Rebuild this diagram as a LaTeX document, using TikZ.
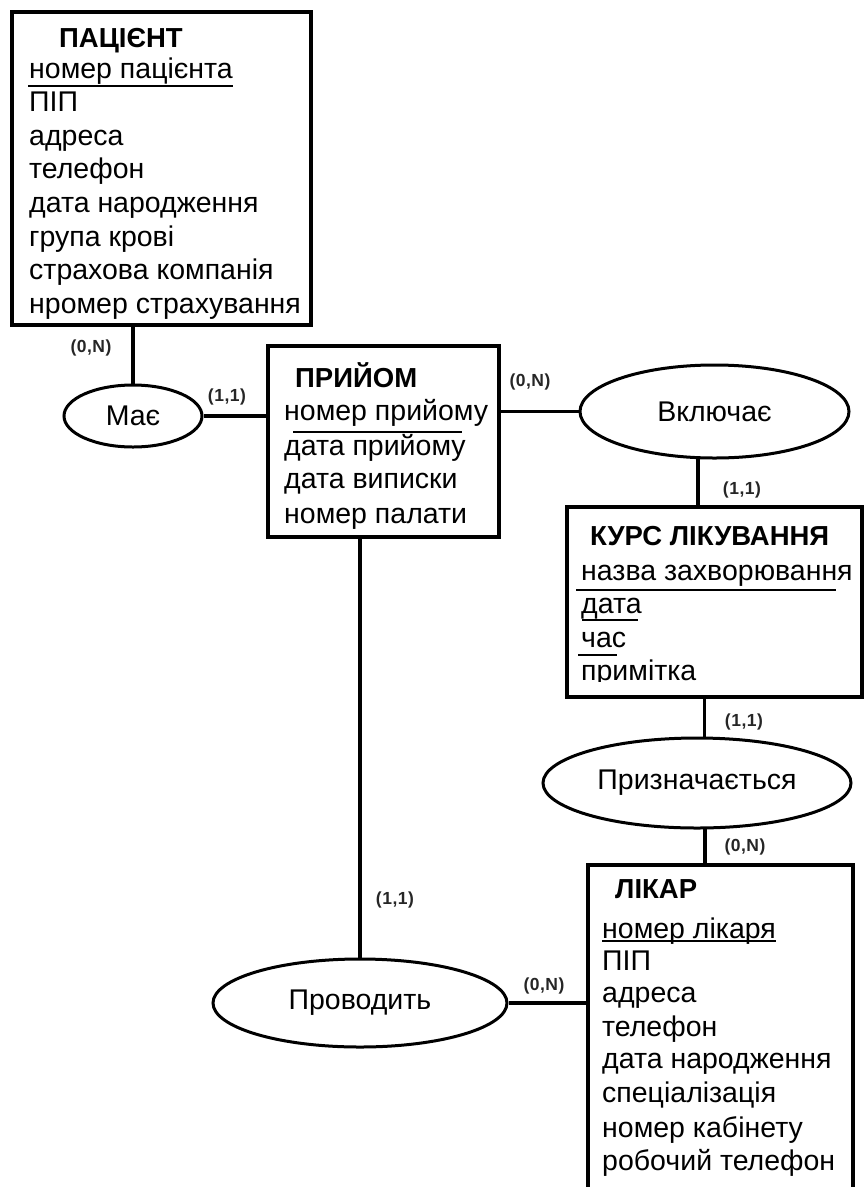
\documentclass[tikz,border=0pt]{standalone}
\usepackage{fontspec}
\setmainfont{Liberation Sans}
\usetikzlibrary{shapes.geometric,calc}
\begin{document}
\begin{tikzpicture}[x=1pt,y=-1pt,
  entity/.style={draw, rectangle, line width=4.5pt, inner sep=0pt},
  relation/.style={draw, ellipse, line width=3pt, inner sep=0pt,
    font=\fontsize{28.5}{28.5}\selectfont},
  attr/.style={anchor=base west, inner sep=0pt, font=\fontsize{28.5}{28.5}\selectfont},
  title/.style={anchor=base west, inner sep=0pt, font=\fontsize{27.5}{27.5}\selectfont\bfseries},
  card/.style={inner sep=0pt, text=black!85,
    font=\fontsize{17.5}{17.5}\selectfont\bfseries\addfontfeature{LetterSpace=3}},
  link/.style={line width=3.5pt},
  keyline/.style={line width=1.5pt}]
\useasboundingbox (0,0) rectangle (865,1187);

% entity boxes
\node[entity, minimum width=299, minimum height=313] (pac) at (161.5,168.5) {};
\node[entity, minimum width=231, minimum height=191] (prm) at (383.5,441.5) {};
\node[entity, minimum width=295, minimum height=190] (kurs) at (714.5,602) {};
\node[entity, minimum width=265, minimum height=335] (lik) at (720.5,1032.5) {};

% relationships
\node[relation, minimum width=138, minimum height=62] (mae) at (133,416) {Має};
\node[relation, minimum width=269, minimum height=93] (vk) at (714.5,411.5) {Включає};
\node[relation, minimum width=308, minimum height=90] (pz) at (697,783) {Призначається};
\node[relation, minimum width=294, minimum height=88] (prov) at (360,1003) {Проводить};

% ПАЦІЄНТ
\node[title] (pacT) at (59,47) {ПАЦІЄНТ};
\node[attr] (pa1) at (29,78) {номер пацієнта};
\node[attr] (pa2) at (29,111.6) {ПІП};
\node[attr] (pa3) at (29,145.2) {адреса};
\node[attr] (pa4) at (29,178.8) {телефон};
\node[attr] (pa5) at (29,212.4) {дата народження};
\node[attr] (pa6) at (29,246) {група крові};
\node[attr] (pa7) at (29,279.6) {страхова компанія};
\node[attr] (pa8) at (29,313.2) {нромер страхування};
\draw[keyline] (28,86) -- (233,86);

% ПРИЙОМ
\node[title] (prT) at (295,387) {ПРИЙОМ};
\node[attr] (pr1) at (284,420) {номер прийому};
\node[attr] (pr2) at (284,455) {дата прийому};
\node[attr] (pr3) at (284,488) {дата виписки};
\node[attr] (pr4) at (284,523) {номер палати};
\draw[keyline] (293,432) -- (462,432);

% КУРС ЛІКУВАННЯ
\node[title] (kuT) at (590,545) {КУРС ЛІКУВАННЯ};
\node[attr] (ku1) at (581,580) {назва захворювання};
\node[attr] (ku2) at (581,613) {дата};
\node[attr] (ku3) at (581,647) {час};
\begin{scope}
  \clip (569,650) rectangle (860,681);
  \node[attr] (ku4) at (581,680) {примітка};
\end{scope}
\draw[keyline] (576,590) -- (836,590);
\draw[keyline] (582,620) -- (638,620);
\draw[keyline] (578,655) -- (617,655);

% ЛІКАР
\node[title] (liT) at (615,898) {ЛІКАР};
\node[attr] (li1) at (602,938) {номер лікаря};
\node[attr] (li2) at (602,970) {ПІП};
\node[attr] (li3) at (602,1002) {адреса};
\node[attr] (li4) at (602,1036) {телефон};
\node[attr] (li5) at (602,1068) {дата народження};
\node[attr] (li6) at (602,1102) {спеціалізація};
\node[attr] (li7) at (602,1137) {номер кабінету};
\node[attr] (li8) at (602,1170) {робочий телефон};
\draw[keyline] ([yshift=-3pt]li1.base west) -- ([yshift=-3pt]li1.base east);

% connectors
\draw[link] (mae.north |- pac.south) -- (mae.north);
\draw[link] (mae.east) -- (mae.east -| prm.west);
\draw[link] (vk.west -| prm.east) -- (vk.west);
\draw[link] (vk.-109) -- (vk.-109 |- kurs.north);
\draw[link] (pz.81 |- kurs.south) -- (pz.81);
\draw[link] (pz.-80) -- (pz.-80 |- lik.north);
\draw[link] (prov.north |- prm.south) -- (prov.north);
\draw[link] (prov.east) -- (prov.east -| lik.west);

% cardinalities
\node[card] (c1) at (91,348) {(0,N)};
\node[card] (c2) at (227,397) {(1,1)};
\node[card] (c3) at (530,382) {(0,N)};
\node[card] (c4) at (742,490) {(1,1)};
\node[card] (c5) at (744,722) {(1,1)};
\node[card] (c6) at (745,847) {(0,N)};
\node[card] (c7) at (395,900) {(1,1)};
\node[card] (c8) at (544,986) {(0,N)};
\end{tikzpicture}
\end{document}
